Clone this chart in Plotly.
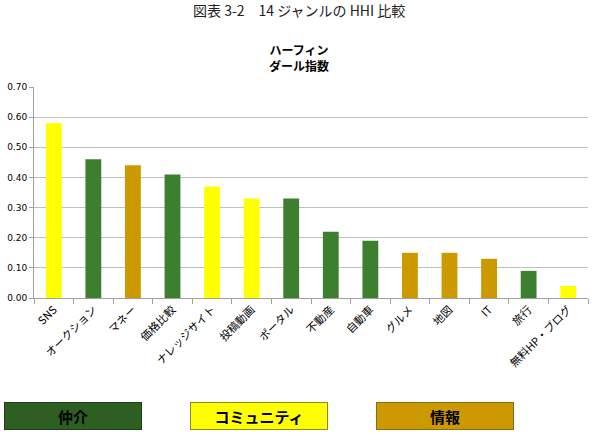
import plotly.graph_objects as go

categories = ["SNS", "オークション", "マネー", "価格比較", "ナレッジサイト", "投稿動画", "ポータル",
              "不動産", "自動車", "グルメ", "地図", "IT", "旅行", "無料HP・ブログ"]
values = [0.58, 0.46, 0.44, 0.41, 0.37, 0.33, 0.33, 0.22, 0.19, 0.15, 0.15, 0.13, 0.09, 0.04]
groups = ["コミュニティ", "仲介", "情報", "仲介", "コミュニティ", "コミュニティ", "仲介",
          "仲介", "仲介", "情報", "情報", "情報", "仲介", "コミュニティ"]
group_colors = {"仲介": "#3C7F2E", "コミュニティ": "#FFFF00", "情報": "#CC9900"}
legend_fill = {"仲介": "#2E5F22", "コミュニティ": "#FFFF00", "情報": "#CC9900"}
legend_border = {"仲介": "#1F3F18", "コミュニティ": "#8A8A20", "情報": "#8A6A10"}
legend_order = ["仲介", "コミュニティ", "情報"]
y_ticks = [0.0, 0.1, 0.2, 0.3, 0.4, 0.5, 0.6, 0.7]

FONT = "Noto Sans CJK JP"
W, H = 595, 447
L, R, T, B = 31, 7, 87, 149
pw, ph = W - L - R, H - T - B

def px_x(x):
    return (x - L) / pw

def px_y(y):
    return (H - B - y) / ph

fig = go.Figure(go.Bar(
    x=categories, y=values,
    marker=dict(color=[group_colors[g] for g in groups], line=dict(width=0)),
    width=0.4,
))

annotations = [
    dict(text="図表 3-2　14 ジャンルの HHI 比較", xref="paper", yref="paper",
         x=px_x(297), y=px_y(10), showarrow=False, xanchor="center", yanchor="middle",
         font=dict(family=FONT, size=14, color="#222222")),
    dict(text="<b>ハーフィン<br>ダール指数</b>", xref="paper", yref="paper",
         x=px_x(297), y=px_y(57), showarrow=False, xanchor="center", yanchor="middle",
         font=dict(family=FONT, size=12, color="#000000")),
]
box_lefts = [1, 188, 375]
for g, bx in zip(legend_order, box_lefts):
    annotations.append(dict(
        text="<b>%s</b>" % g, xref="paper", yref="paper",
        x=px_x(bx), y=px_y(402), xanchor="left", yanchor="top", showarrow=False,
        width=136, height=26, bgcolor=legend_fill[g], bordercolor=legend_border[g],
        borderwidth=1, borderpad=0, align="center", valign="middle",
        font=dict(family=FONT, size=15, color="#000000")))

fig.update_layout(
    width=W, height=H,
    margin=dict(l=L, r=R, t=T, b=B),
    paper_bgcolor="white", plot_bgcolor="white",
    showlegend=False,
    font=dict(family=FONT, size=10, color="#000000"),
    annotations=annotations,
    xaxis=dict(
        type="category", tickangle=-45, tickson="boundaries",
        ticks="outside", ticklen=5, tickcolor="#A0A0A0",
        showline=True, linecolor="#A0A0A0", linewidth=1,
        showgrid=False, tickfont=dict(family=FONT, size=11, color="#000000"),
        range=[-0.5, len(categories) - 0.5],
    ),
    yaxis=dict(
        range=[0, 0.7], tickvals=y_ticks, tickformat=".2f",
        showgrid=True, gridcolor="#C0C0C0", gridwidth=1,
        showline=True, linecolor="#A0A0A0", linewidth=1,
        ticks="outside", ticklen=4, tickcolor="#A0A0A0",
        zeroline=False,
        tickfont=dict(family="DejaVu Sans", size=9, color="#000000"),
    ),
)

fig.write_html("out.html")
